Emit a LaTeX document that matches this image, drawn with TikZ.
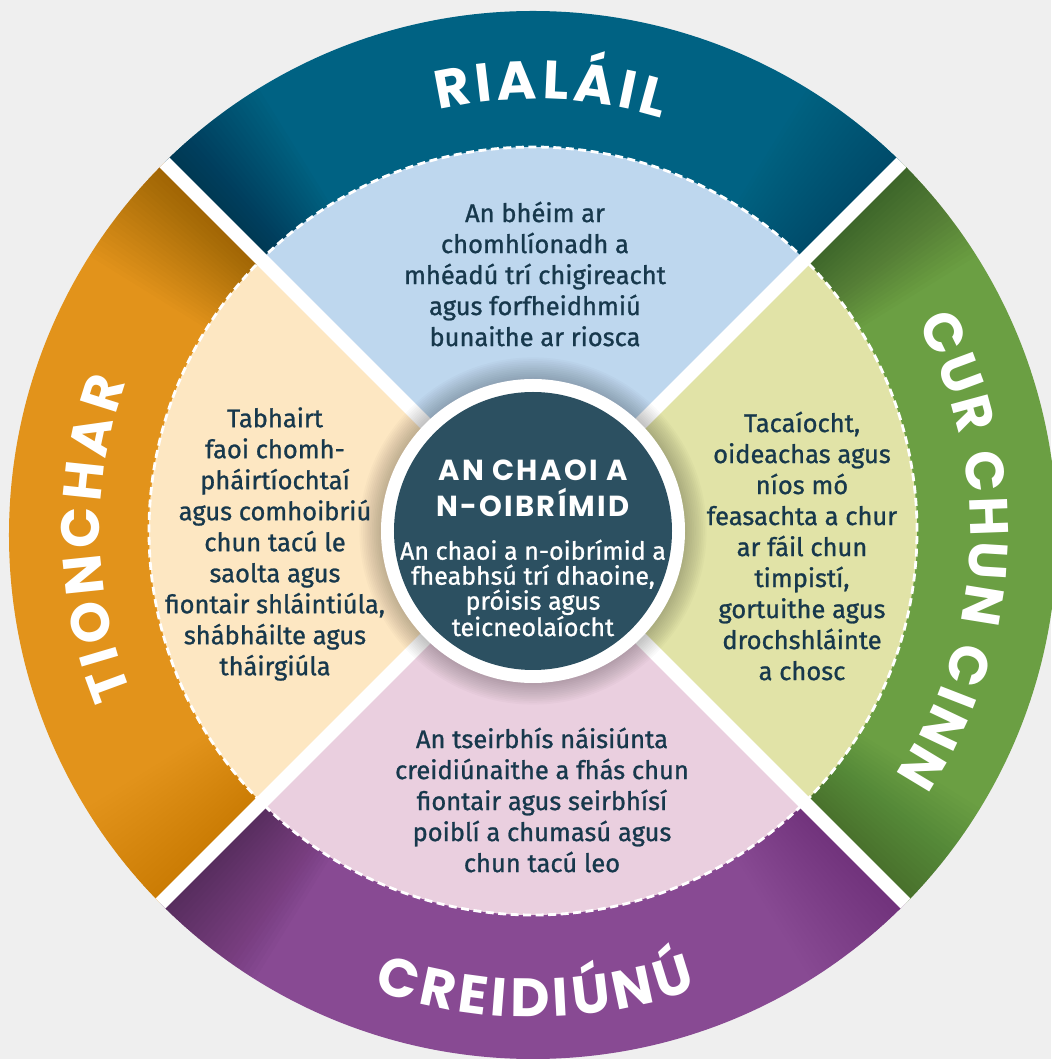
\documentclass[tikz,border=0pt]{standalone}
\usepackage{fontspec}
\setmainfont{Fira Sans}
\newfontfamily\ringfont{Poppins}
\newfontfamily\titlefont{Poppins}[LetterSpace=8]
\newfontfamily\bodyfont{Fira Sans}[FakeBold=1.0]
\usetikzlibrary{decorations.text}
\definecolor{bgc}{HTML}{EFEFEF}
\definecolor{tealc}{HTML}{006283}
\definecolor{grnc}{HTML}{6B9F43}
\definecolor{purpc}{HTML}{884A93}
\definecolor{orngc}{HTML}{E2931B}
\definecolor{paleblue}{HTML}{BED7EE}
\definecolor{paleyel}{HTML}{E1E3A7}
\definecolor{palepink}{HTML}{EACFDF}
\definecolor{palepeach}{HTML}{FDE7C2}
\definecolor{cdark}{HTML}{2C5061}
\definecolor{txtc}{HTML}{17384C}
\newcommand\ringfmt{\ringfont\bfseries\fontsize{54pt}{54pt}\selectfont\color{white}\kern4.5pt}
\newcommand\ringfmtn{\ringfont\bfseries\fontsize{54pt}{54pt}\selectfont\color{white}\kern3.5pt}
\begin{document}
\begin{tikzpicture}[x=1pt,y=1pt,
  bodytxt/.style={text=txtc, align=center, font=\bodyfont\fontsize{25.5pt}{31pt}\selectfont, inner sep=0pt},
  ctitle/.style={text=white, align=center, font=\titlefont\bfseries\fontsize{29pt}{36pt}\selectfont, inner sep=0pt},
  csub/.style={text=white, align=center, font=\bodyfont\fontsize{25pt}{25pt}\selectfont, inner sep=0pt},
  ringlabel/.style={decorate, decoration={text along path, text align=center, text={#1}}},
  gapline/.style={white, line width=14pt}
]
\useasboundingbox (-533,-528) rectangle (518,531);
\fill[bgc] (-533,-528) rectangle (518,531);

% outer ring segments
\begin{scope}
\clip (0,-4) circle[radius=524];
\fill[tealc] (0,0) -- (45:700) arc[start angle=45,end angle=135,radius=700] -- cycle;
\fill[orngc] (0,0) -- (135:700) arc[start angle=135,end angle=225,radius=700] -- cycle;
\fill[purpc] (0,0) -- (225:700) arc[start angle=225,end angle=315,radius=700] -- cycle;
\fill[grnc] (0,0) -- (315:700) arc[start angle=315,end angle=405,radius=700] -- cycle;
\foreach \g/\d/\o in {135/-1/0.014, 45/-1/0.016, 225/1/0.014, 315/1/0.011, 135/1/0.011, 45/1/0.007, 225/-1/0.005, 315/-1/0.005} {
  \foreach \k in {1,...,24} {
    \fill[black, opacity=\o] (0,0) -- (\g:700) arc[start angle=\g, delta angle={\d*\k*0.55}, radius=700] -- cycle;
  }
}
\end{scope}

% pale inner sectors
\fill[paleblue] (0,0) -- (45:384) arc[start angle=45,end angle=135,radius=384] -- cycle;
\fill[palepeach] (0,0) -- (135:384) arc[start angle=135,end angle=225,radius=384] -- cycle;
\fill[palepink] (0,0) -- (225:384) arc[start angle=225,end angle=315,radius=384] -- cycle;
\fill[paleyel] (0,0) -- (315:384) arc[start angle=315,end angle=405,radius=384] -- cycle;
\draw[white, line width=2.8pt, dash pattern=on 8pt off 4.5pt] (0,0) circle[radius=384];

% white gaps
\begin{scope}
\clip (0,-4) circle[radius=524];
\coordinate (gA) at (45:560);
\coordinate (gB) at (225:560);
\coordinate (gC) at (135:560);
\coordinate (gD) at (315:560);
\draw[gapline] (gA) -- (gB);
\draw[gapline] (gC) -- (gD);
\end{scope}

% centre circle with soft shadow
\foreach \k in {1,...,12} {
  \fill[black, opacity=0.018] (0,0) circle[radius={152+1.8*\k}];
}
\fill[white] (0,0) circle[radius=152];
\fill[cdark] (0,0) circle[radius=139];

% ring labels
\path[ringlabel={|\ringfmt|RIALÁIL}] (148:432) arc[start angle=148, end angle=28, radius=432];
\path[ringlabel={|\ringfmt|TIONCHAR}] (241.3:433) arc[start angle=241.3, end angle=121.3, radius=433];
\path[ringlabel={|\ringfmtn|CUR CHUN CINN}] (60:437) arc[start angle=60, end angle=-65, radius=437];
\path[ringlabel={|\ringfmt|CREIDIÚNÚ}] (210:486) arc[start angle=210, end angle=330, radius=486];

% body texts
\node[bodytxt] (tTop) at (2,257) {An bhéim ar\\chomhlíonadh a\\mhéadú trí chigireacht\\agus forfheidhmiú\\bunaithe ar riosca};
\node[bodytxt] (tLeft) at (-258,-13) {Tabhairt\\faoi chomh-\\pháirtíochtaí\\agus comhoibriú\\chun tacú le\\saolta agus\\fiontair shláintiúla,\\shábháilte agus\\tháirgiúla};
\node[bodytxt] (tRight) at (269,-15) {Tacaíocht,\\oideachas agus\\níos mó\\feasachta a chur\\ar fáil chun\\timpistí,\\gortuithe agus\\drochshláinte\\a chosc};
\node[bodytxt] (tBottom) at (9,-269) {An tseirbhís náisiúnta\\creidiúnaithe a fhás chun\\fiontair agus seirbhísí\\poiblí a chumasú agus\\chun tacú leo};

% centre texts
\node[ctitle] (cTitle) at (0,43) {AN CHAOI A\\N-OIBRÍMID};
\node[csub] (cSub) at (0,-57) {An chaoi a n-oibrímid a\\fheabhsú trí dhaoine,\\próisis agus\\teicneolaíocht};
\end{tikzpicture}
\end{document}
